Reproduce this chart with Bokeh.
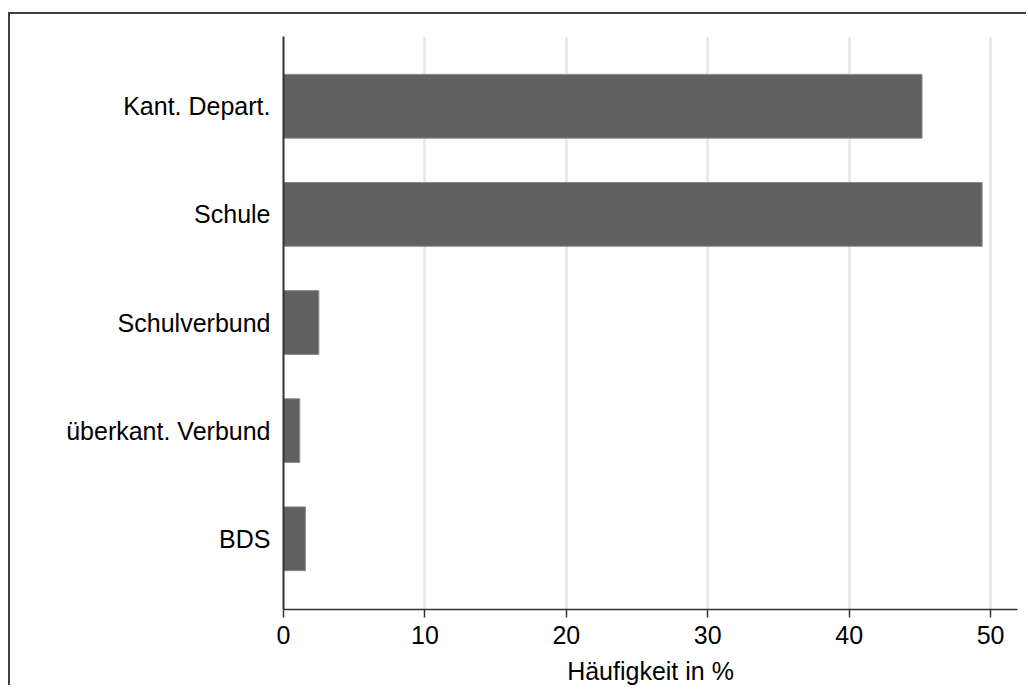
from bokeh.plotting import figure
from bokeh.models import Range1d, FixedTicker, ColumnDataSource
from bokeh.embed import file_html
from bokeh.resources import INLINE

categories = ["Kant. Depart.", "Schule", "Schulverbund", "überkant. Verbund", "BDS"]
values = [45.15, 49.4, 2.5, 1.15, 1.55]
positions = [5, 4, 3, 2, 1]
x_ticks = [0, 10, 20, 30, 40, 50]
x_label = "Häufigkeit in %"

FONT = "Liberation Sans"

source = ColumnDataSource(data=dict(y=positions, v=values, cat=categories))

p = figure(
    width=1018, height=673,
    x_range=Range1d(0, 51.9), y_range=Range1d(0.346, 5.645),
    output_backend="svg", toolbar_location=None,
    min_border_left=273, min_border_right=11, min_border_top=22, min_border_bottom=76,
    styles={"border-top": "2px solid #404040", "border-left": "2px solid #404040",
            "margin-top": "12px", "margin-left": "8px"},
)
p.background_fill_color = "white"
p.border_fill_color = "white"
p.outline_line_color = None

p.hbar(y="y", right="v", left=0, height=0.59, source=source,
       fill_color="#606060", line_color="#8c8c8c", line_width=1)

# x axis
p.xaxis.ticker = FixedTicker(ticks=x_ticks)
p.xaxis.axis_label = x_label
p.xaxis.axis_label_text_font = FONT
p.xaxis.axis_label_text_font_size = "25px"
p.xaxis.axis_label_text_font_style = "normal"
p.xaxis.axis_label_text_color = "black"
p.xaxis.axis_label_standoff = 10
p.xaxis.major_label_text_font = FONT
p.xaxis.major_label_text_font_size = "25px"
p.xaxis.major_label_text_color = "black"
p.xaxis.major_label_standoff = 8
p.xaxis.major_tick_out = 8
p.xaxis.major_tick_in = 0
p.xaxis.minor_tick_line_color = None
p.xaxis.axis_line_color = "#333333"
p.xaxis.axis_line_width = 1.5
p.xaxis.major_tick_line_color = "#333333"
p.xaxis.major_tick_line_width = 1.5

# y axis
p.yaxis.ticker = FixedTicker(ticks=positions)
p.yaxis.major_label_overrides = {pos: cat for pos, cat in zip(positions, categories)}
p.yaxis.major_label_text_font = FONT
p.yaxis.major_label_text_font_size = "25px"
p.yaxis.major_label_text_color = "black"
p.yaxis.major_label_standoff = 7
p.yaxis.major_tick_line_color = None
p.yaxis.minor_tick_line_color = None
p.yaxis.axis_line_color = "#333333"
p.yaxis.axis_line_width = 2

# grid
p.xgrid.ticker = FixedTicker(ticks=x_ticks)
p.xgrid.grid_line_color = "#e6e6e6"
p.xgrid.grid_line_width = 2.5
p.ygrid.grid_line_color = None

open("out.html", "w").write(file_html(p, INLINE))
